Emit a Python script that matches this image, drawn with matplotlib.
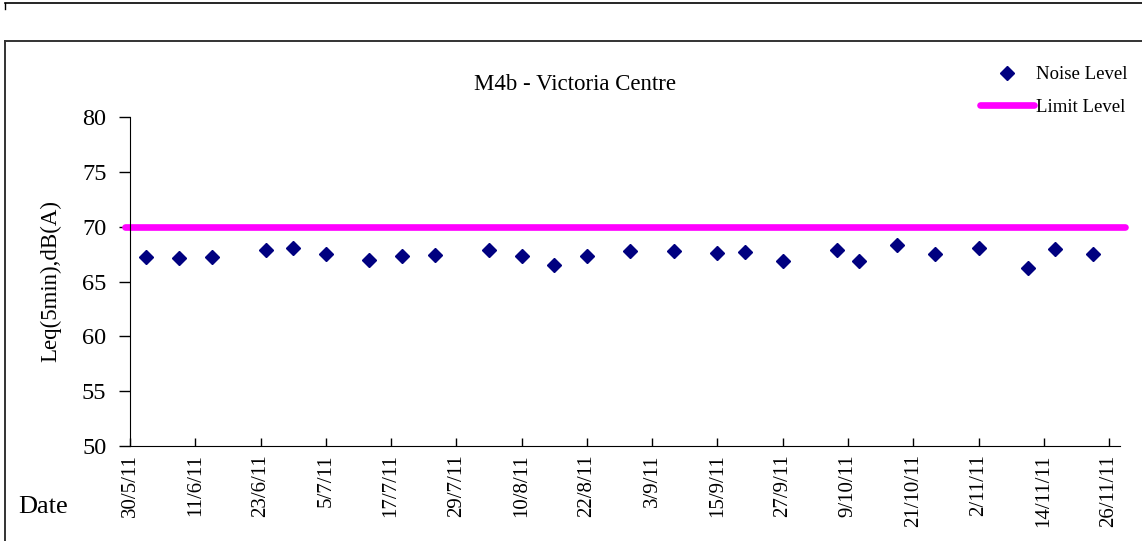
import matplotlib
matplotlib.use("Agg")
import matplotlib.pyplot as plt
import matplotlib.dates as mdates
from matplotlib.lines import Line2D
import numpy as np
import pandas as pd

# data
dates = ["2011-06-02", "2011-06-08", "2011-06-14", "2011-06-24", "2011-06-29",
         "2011-07-05", "2011-07-13", "2011-07-19", "2011-07-25", "2011-08-04",
         "2011-08-10", "2011-08-16", "2011-08-22", "2011-08-30", "2011-09-07",
         "2011-09-15", "2011-09-20", "2011-09-27", "2011-10-07", "2011-10-11",
         "2011-10-18", "2011-10-25", "2011-11-02", "2011-11-11", "2011-11-16",
         "2011-11-23"]
noise_level = [67.2, 67.1, 67.2, 67.9, 68.1,
               67.5, 67.0, 67.3, 67.4, 67.9,
               67.3, 66.5, 67.3, 67.8, 67.8,
               67.6, 67.7, 66.9, 67.9, 66.9,
               68.3, 67.5, 68.1, 66.2, 68.0,
               67.5]
limit_dates = ["2011-05-29", "2011-11-29"]
limit_level = [70, 70]
tick_start = "2011-05-30"
tick_end = "2011-11-26"
y_ticks = [50, 55, 60, 65, 70, 75, 80]

dates = pd.to_datetime(dates)
limit_dates = pd.to_datetime(limit_dates)
ticks = pd.date_range(tick_start, tick_end, freq="12D")

plt.rcParams["font.family"] = ["Liberation Serif", "DejaVu Serif"]

fig = plt.figure(figsize=(11.42, 5.41), dpi=100)
W, H = 1142, 541

# outer frame lines
fig.add_artist(Line2D([5 / W, 1.0], [1 - 3 / H, 1 - 3 / H], color="black", lw=1.2))
fig.add_artist(Line2D([5 / W, 5 / W], [1 - 3 / H, 1 - 9 / H], color="black", lw=1.0))
fig.add_artist(Line2D([5 / W, 1.0], [1 - 41 / H, 1 - 41 / H], color="#333333", lw=1.4))
fig.add_artist(Line2D([5 / W, 5 / W], [1 - 41 / H, 0.0], color="#333333", lw=1.4))

ax = fig.add_axes([130 / W, 1 - 446 / H, (1120 - 130) / W, (446 - 117) / H])

ax.plot(limit_dates, limit_level, color="#FF00FF", lw=4.8, solid_capstyle="round",
        clip_on=False, zorder=2, label="Limit Level")
ax.plot(dates, noise_level, linestyle="none", marker="D", markersize=7.6,
        color="#000080", zorder=3, label="Noise Level")

ax.set_xlim(pd.Timestamp(tick_start), pd.Timestamp(tick_start) + pd.Timedelta(days=182))
ax.set_ylim(50, 80)
ax.set_yticks(y_ticks)
ax.set_xticks(ticks)
ax.xaxis.set_major_formatter(mdates.DateFormatter("%-d/%-m/%y"))

ax.spines["top"].set_visible(False)
ax.spines["right"].set_visible(False)
ax.tick_params(axis="y", direction="out", length=8, width=1, labelsize=17.5, pad=9)
ax.tick_params(axis="x", direction="in", length=6, width=1, labelsize=15, pad=6,
               labelrotation=90)

fig.text(575 / W, 1 - 84 / H, "M4b - Victoria Centre", fontsize=16.5,
         ha="center", va="center")
ax.set_ylabel("Leq(5min),dB(A)", fontsize=16.5, labelpad=15)
fig.text(18 / W, 1 - 507 / H, "Date", fontsize=19, va="center", ha="left")

handles, labels = ax.get_legend_handles_labels()
ax.legend(handles[::-1], labels[::-1], loc="upper left", bbox_to_anchor=(980 / W, 1 - 66 / H),
          bbox_transform=fig.transFigure, frameon=False, fontsize=13.5,
          handlelength=2.9, handletextpad=0.1, labelspacing=0.82,
          borderpad=0, borderaxespad=0)

fig.savefig("out.png", dpi=100)
